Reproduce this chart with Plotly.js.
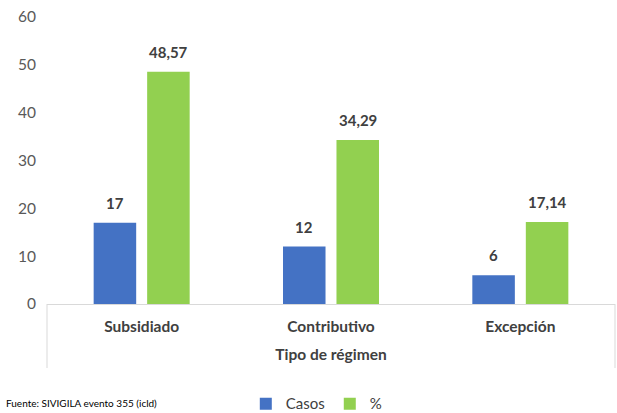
<!DOCTYPE html>
<html><head><meta charset="utf-8">
<script src="https://cdn.plot.ly/plotly-3.0.1.min.js"></script>
<style>body{margin:0;background:#fff}#c{width:617px;height:413px}</style>
</head><body><div id="c"></div>
<script>
const categories = ["Subsidiado", "Contributivo", "Excepción"];
const casos = [17, 12, 6];
const pct = [48.57, 34.29, 17.14];
const casosLabels = ["17", "12", "6"];
const pctLabels = ["48,57", "34,29", "17,14"];
const yTicks = [0, 10, 20, 30, 40, 50, 60];

const font = "Lato, 'Open Sans', sans-serif";
const traces = [
  {type: 'bar', name: 'Casos', x: categories, y: casos, marker: {color: '#4472C4'}},
  {type: 'bar', name: '%', x: categories, y: pct, marker: {color: '#92D050'}}
];
const labelFont = {family: font, size: 15, color: '#404040', weight: 'bold'};
const annotations = [];
categories.forEach((c, i) => {
  annotations.push({x: c, y: casos[i], xref: 'x', yref: 'y', text: casosLabels[i], showarrow: false,
    xshift: -26.75, yshift: 9, yanchor: 'bottom', font: labelFont});
  annotations.push({x: c, y: pct[i], xref: 'x', yref: 'y', text: pctLabels[i], showarrow: false,
    xshift: 26.75, yshift: 9, yanchor: 'bottom', font: labelFont});
});
annotations.push({text: 'Fuente: SIVIGILA evento 355 (icld)', xref: 'paper', yref: 'paper', x: -0.075, y: -0.345,
  xanchor: 'left', yanchor: 'middle', showarrow: false, font: {family: font, size: 10, color: '#000'}});

const layout = {
  width: 617, height: 413,
  margin: {l: 47, r: 2, t: 17, b: 109, autoexpand: false},
  paper_bgcolor: '#fff', plot_bgcolor: '#fff',
  font: {family: font, size: 15, color: '#595959'},
  barmode: 'group', bargap: 0.435, bargroupgap: 0.205,
  showlegend: true,
  legend: {orientation: 'h', x: 0.475, xanchor: 'center', y: -0.348, yanchor: 'middle',
           font: {family: font, size: 15, color: '#404040'}, itemwidth: 30, tracegroupgap: 0},
  xaxis: {showline: true, linecolor: '#d9d9d9', linewidth: 1, ticks: '', showgrid: false, automargin: false,
          ticklabelstandoff: 8,
          tickfont: {family: font, size: 15.5, color: '#404040', weight: 'bold'},
          title: {text: 'Tipo de régimen', font: {family: font, size: 15.5, color: '#404040', weight: 'bold'}, standoff: 15}},
  yaxis: {range: [0, 60], tickvals: yTicks, showgrid: false, zeroline: false, showline: false, automargin: false,
          ticks: '', ticklabelstandoff: 10, tickfont: {family: font, size: 15.5, color: '#595959'}},
  shapes: [
    {type: 'line', xref: 'paper', yref: 'paper', x0: 0, x1: 0, y0: 0, y1: -0.223, line: {color: '#d9d9d9', width: 1}},
    {type: 'line', xref: 'paper', yref: 'paper', x0: 1, x1: 1, y0: 0, y1: -0.223, line: {color: '#d9d9d9', width: 1}}
  ],
  annotations: annotations
};
Plotly.newPlot('c', traces, layout, {displayModeBar: false, staticPlot: true});
</script></body></html>
